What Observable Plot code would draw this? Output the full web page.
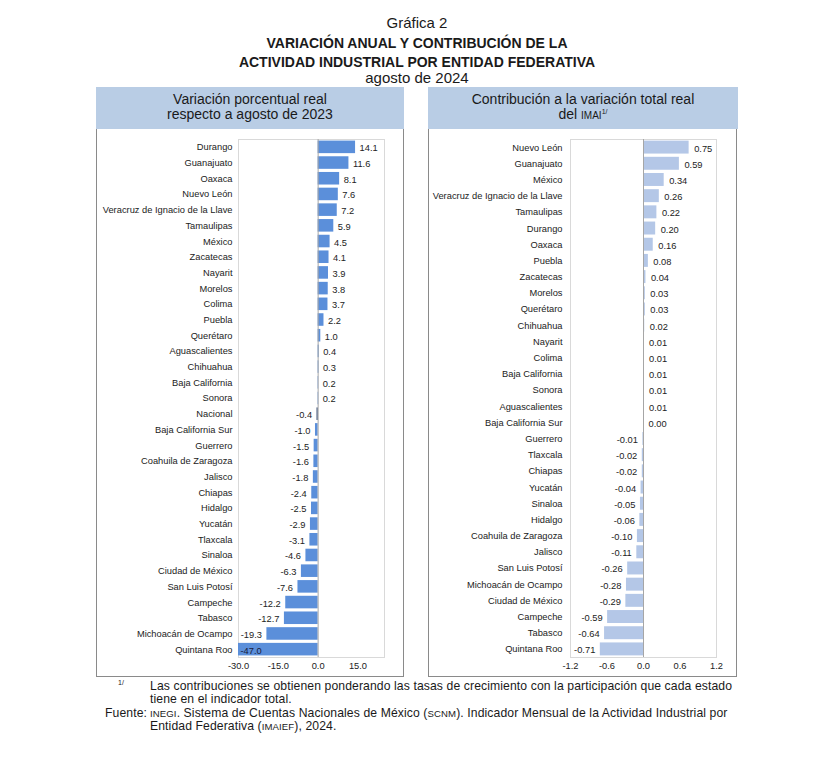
<!DOCTYPE html>
<html><head><meta charset="utf-8">
<script src="https://cdn.jsdelivr.net/npm/d3@7"></script>
<script src="https://cdn.jsdelivr.net/npm/@observablehq/plot@0.6"></script>
<style>
body{margin:0;background:#fff;font-family:"Liberation Sans",Arial,sans-serif;color:#1a1a1a}
#page{position:relative;width:828px;height:766px;overflow:hidden;background:#fff}
.abs{position:absolute}
.t{left:0;width:834px;text-align:center;white-space:nowrap}
.hdr{background:#b9cde5;font-size:14px;line-height:15px;text-align:center;box-sizing:border-box;padding-top:5px;height:42px;top:87px;white-space:nowrap}
.body{border:1px solid #8a8a8a;box-sizing:border-box;top:128px;height:549px}
.sc{font-size:10px}
.sup{font-size:7px;position:relative;top:-5px}
.fn{font-size:12.2px;line-height:13.4px;letter-spacing:0.1px;white-space:nowrap}
.fsc{font-size:9.6px}
</style></head>
<body><div id="page">
<div class="abs t" style="top:14px;font-size:15px;line-height:18px">Gráfica 2</div>
<div class="abs t" style="top:34px;font-size:14px;line-height:18px;font-weight:bold">VARIACIÓN ANUAL Y CONTRIBUCIÓN DE LA</div>
<div class="abs t" style="top:52.6px;font-size:14px;line-height:18px;font-weight:bold">ACTIVIDAD INDUSTRIAL POR ENTIDAD FEDERATIVA</div>
<div class="abs t" style="top:69px;font-size:15px;line-height:18px">agosto de 2024</div>

<div class="abs body" style="left:96px;width:308px"></div>
<div class="abs hdr" style="left:96px;width:308px">Variación porcentual real<br>respecto a agosto de 2023</div>
<div class="abs body" style="left:428px;width:309px"></div>
<div class="abs hdr" style="left:428px;width:310px">Contribución a la variación total real<br>del <span class="sc">IMAI</span><span class="sup">1/</span></div>

<div id="c1" class="abs" style="left:97px;top:129px"></div>
<div id="c2" class="abs" style="left:429px;top:129px"></div>

<div class="abs" style="left:118px;top:679px;font-size:7px">1/</div>
<div class="abs fn" style="left:150px;top:680px">Las contribuciones se obtienen ponderando las tasas de crecimiento con la participación que cada estado<br>tiene en el indicador total.</div>
<div class="abs fn" style="left:105px;top:707px">Fuente:</div>
<div class="abs fn" style="left:150px;top:707px"><span class="fsc">INEGI</span>. Sistema de Cuentas Nacionales de México (<span class="fsc">SCNM</span>). Indicador Mensual de la Actividad Industrial por<br>Entidad Federativa (<span class="fsc">IMAIEF</span>), 2024.</div>
</div>
<script>
const states1 = ["Durango","Guanajuato","Oaxaca","Nuevo León","Veracruz de Ignacio de la Llave","Tamaulipas","México","Zacatecas","Nayarit","Morelos","Colima","Puebla","Querétaro","Aguascalientes","Chihuahua","Baja California","Sonora","Nacional","Baja California Sur","Guerrero","Coahuila de Zaragoza","Jalisco","Chiapas","Hidalgo","Yucatán","Tlaxcala","Sinaloa","Ciudad de México","San Luis Potosí","Campeche","Tabasco","Michoacán de Ocampo","Quintana Roo"];
const variacion = [14.1,11.6,8.1,7.6,7.2,5.9,4.5,4.1,3.9,3.8,3.7,2.2,1.0,0.4,0.3,0.2,0.2,-0.4,-1.0,-1.5,-1.6,-1.8,-2.4,-2.5,-2.9,-3.1,-4.6,-6.3,-7.6,-12.2,-12.7,-19.3,-47.0];

const states2 = ["Nuevo León","Guanajuato","México","Veracruz de Ignacio de la Llave","Tamaulipas","Durango","Oaxaca","Puebla","Zacatecas","Morelos","Querétaro","Chihuahua","Nayarit","Colima","Baja California","Sonora","Aguascalientes","Baja California Sur","Guerrero","Tlaxcala","Chiapas","Yucatán","Sinaloa","Hidalgo","Coahuila de Zaragoza","Jalisco","San Luis Potosí","Michoacán de Ocampo","Ciudad de México","Campeche","Tabasco","Quintana Roo"];
const contribucion = [0.75,0.59,0.34,0.26,0.22,0.20,0.16,0.08,0.04,0.03,0.03,0.02,0.01,0.01,0.01,0.01,0.01,0.00,-0.01,-0.02,-0.02,-0.04,-0.05,-0.06,-0.10,-0.11,-0.26,-0.28,-0.29,-0.59,-0.64,-0.71];

const xDomain1 = [-30, 25];
const xTicks1 = [-30, -15, 0, 15];
const xDomain2 = [-1.2, 1.2];
const xTicks2 = [-1.2, -0.6, 0, 0.6, 1.2];

const colorMain = "#5b8fda";
const colorNacional = "#1f3864";
const colorContrib = "#b4c7e7";

const d1 = states1.map((name, i) => ({name, v: variacion[i]}));
const d2 = states2.map((name, i) => ({name, v: contribucion[i]}));

const style = {fontFamily: "Liberation Sans, Arial, sans-serif", fontSize: "9.3px", color: "#222", background: "transparent", overflow: "visible"};

const p1 = Plot.plot({
  width: 305, height: 547,
  marginLeft: 141, marginRight: 18, marginTop: 10, marginBottom: 19,
  style,
  x: {domain: xDomain1, ticks: xTicks1, tickFormat: d => d.toFixed(1), tickSize: 0, tickPadding: 5, label: null},
  y: {domain: states1, paddingInner: 0.2, paddingOuter: 0.1, round: false, tickSize: 0, tickPadding: 6, label: null},
  color: {type: "identity"},
  marks: [
    Plot.frame({stroke: "#d9d9d9"}),
    Plot.barX(d1, {x: "v", y: "name", fill: d => d.name === "Nacional" ? colorNacional : colorMain, clip: true}),
    Plot.ruleX([0], {stroke: "#a6a6a6"}),
    Plot.text(d1, {filter: d => d.v >= 0, x: "v", y: "name", text: d => d.v.toFixed(1), textAnchor: "start", dx: 4, dy: 1, fill: "#222"}),
    Plot.text(d1, {filter: d => d.v < 0 && d.v >= xDomain1[0], x: "v", y: "name", text: d => d.v.toFixed(1), textAnchor: "end", dx: -5, dy: 1, fill: "#222"}),
    Plot.text(d1, {filter: d => d.v < xDomain1[0], x: d => Math.max(d.v, xDomain1[0]), y: "name", text: d => d.v.toFixed(1), textAnchor: "start", dx: 2, dy: 1, fill: "#1a1a3a"})
  ]
});
document.getElementById("c1").appendChild(p1);

const p2 = Plot.plot({
  width: 307, height: 547,
  marginLeft: 141, marginRight: 20, marginTop: 10, marginBottom: 19,
  style,
  x: {domain: xDomain2, ticks: xTicks2, tickFormat: d => d.toFixed(1), tickSize: 0, tickPadding: 5, label: null},
  y: {domain: states2, paddingInner: 0.2, paddingOuter: 0.1, round: false, tickSize: 0, tickPadding: 8, label: null},
  marks: [
    Plot.frame({stroke: "#d9d9d9"}),
    Plot.barX(d2, {x: "v", y: "name", fill: colorContrib}),
    Plot.ruleX([0], {stroke: "#a6a6a6"}),
    Plot.text(d2, {filter: d => d.v >= 0, x: "v", y: "name", text: d => d.v.toFixed(2), textAnchor: "start", dx: 5, dy: 1, fill: "#222"}),
    Plot.text(d2, {filter: d => d.v < 0, x: "v", y: "name", text: d => d.v.toFixed(2), textAnchor: "end", dx: -5, dy: 1, fill: "#222"})
  ]
});
document.getElementById("c2").appendChild(p2);
</script>
</body></html>
